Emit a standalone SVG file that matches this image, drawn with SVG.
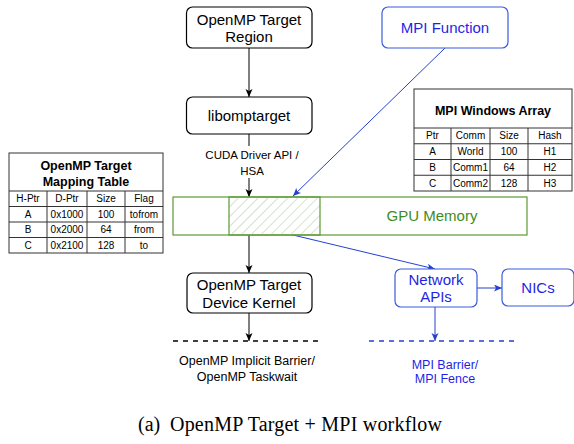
<svg xmlns="http://www.w3.org/2000/svg" width="574" height="444" viewBox="0 0 574 444">
<style>
.box{fill:#fff;stroke:#000;stroke-width:1.2}
.bbox{fill:#fff;stroke:#3b5bdb;stroke-width:1.2}
.t{font-family:"Liberation Sans",Arial,sans-serif;font-size:15px;fill:#000;text-anchor:middle}
.bt{font-family:"Liberation Sans",Arial,sans-serif;font-size:15px;fill:#1f1fe6;text-anchor:middle}
.s{font-family:"Liberation Sans",Arial,sans-serif;font-size:12.5px;fill:#000;text-anchor:middle}
.sb{font-family:"Liberation Sans",Arial,sans-serif;font-size:12.5px;fill:#1f1fe6;text-anchor:middle}
.th{font-family:"Liberation Sans",Arial,sans-serif;font-size:12.5px;font-weight:bold;fill:#000;text-anchor:middle}
.c{font-family:"Liberation Sans",Arial,sans-serif;font-size:10px;fill:#000;text-anchor:middle}
.tbl{fill:#fff;stroke:#333;stroke-width:1}
.tl{stroke:#333;stroke-width:1}
.k{stroke:#000;stroke-width:1;fill:none}
.b{stroke:#2540d0;stroke-width:1;fill:none}
</style>
<defs>
<marker id="ak" markerUnits="userSpaceOnUse" markerWidth="9" markerHeight="8" refX="8" refY="3.5" orient="auto">
<path d="M0,0 L8,3.5 L0,7 L2,3.5 z" fill="#000"/>
</marker>
<marker id="ab" markerUnits="userSpaceOnUse" markerWidth="9" markerHeight="8" refX="8" refY="3.5" orient="auto">
<path d="M0,0 L8,3.5 L0,7 L2,3.5 z" fill="#2540d0"/>
</marker>
<pattern id="hatch" patternUnits="userSpaceOnUse" width="7" height="7" patternTransform="rotate(45)">
<line x1="0" y1="0" x2="0" y2="7" stroke="#b9cdaa" stroke-width="1.2"/>
</pattern>
</defs>
<rect width="574" height="444" fill="#fff"/>

<g id="connectors">
<line class="k" x1="249" y1="48" x2="249" y2="97" marker-end="url(#ak)"/>
<line class="k" x1="249" y1="134" x2="249" y2="197" marker-end="url(#ak)"/>
<line class="k" x1="249" y1="235" x2="249" y2="273" marker-end="url(#ak)"/>
<line class="k" x1="249" y1="313" x2="249" y2="341" marker-end="url(#ak)"/>
<line class="b" x1="445" y1="48" x2="293" y2="196" marker-end="url(#ab)"/>
<line class="b" x1="293" y1="235" x2="435" y2="269" marker-end="url(#ab)"/>
<line class="b" x1="477" y1="288" x2="502" y2="288" marker-end="url(#ab)"/>
<line class="b" x1="435" y1="307" x2="435" y2="341" marker-end="url(#ab)"/>
<line x1="173" y1="341" x2="322" y2="341" stroke="#000" stroke-width="1.5" stroke-dasharray="5,5"/>
<line x1="369" y1="341" x2="517" y2="341" stroke="#2540d0" stroke-width="1.5" stroke-dasharray="5,5"/>
<rect x="200" y="146" width="104" height="32" fill="#fff"/>
<text class="c" style="font-size:11.5px" x="252" y="159">CUDA Driver API /</text>
<text class="c" style="font-size:11.5px" x="252" y="175">HSA</text>
</g>

<g id="region">
<rect class="box" x="186.5" y="7" width="125.5" height="41" rx="6"/>
<text class="t" x="249" y="24.5">OpenMP Target</text>
<text class="t" x="249" y="41.5">Region</text>
</g>

<g id="libomptarget">
<rect class="box" x="186.5" y="97" width="125.5" height="37" rx="6"/>
<text class="t" x="249" y="120.5">libomptarget</text>
</g>

<g id="mpi-function">
<rect class="bbox" x="382" y="7" width="126" height="41" rx="6"/>
<text class="bt" x="445" y="33">MPI Function</text>
</g>

<g id="gpu-memory">
<rect x="173" y="197" width="354" height="38" fill="#fff" stroke="#5a9a32" stroke-width="1.2"/>
<rect x="229" y="197" width="91" height="38" fill="url(#hatch)" stroke="#5a9a32" stroke-width="1.2"/>
<text x="432" y="220.5" font-family="Liberation Sans, Arial, sans-serif" font-size="15" fill="#3d8c1e" text-anchor="middle">GPU Memory</text>
</g>

<g id="kernel">
<rect class="box" x="187" y="273" width="125" height="40" rx="6"/>
<text class="t" x="249" y="289.5">OpenMP Target</text>
<text class="t" x="249" y="308">Device Kernel</text>
</g>

<g id="network-apis">
<rect class="bbox" x="395" y="269" width="82" height="38" rx="6"/>
<text class="bt" x="436" y="284.6">Network</text>
<text class="bt" x="436" y="302">APIs</text>
</g>

<g id="nics">
<rect class="bbox" x="502" y="269" width="72" height="37" rx="6"/>
<text class="bt" x="538" y="293">NICs</text>
</g>

<g id="omp-barrier-label">
<text class="s" x="247" y="364.5">OpenMP Implicit Barrier/</text>
<text class="s" x="247" y="380.5">OpenMP Taskwait</text>
</g>

<g id="mpi-barrier-label">
<text class="sb" x="445" y="368.5">MPI Barrier/</text>
<text class="sb" x="445" y="382.5">MPI Fence</text>
</g>

<g id="mapping-table">
<rect class="tbl" x="9" y="153" width="154" height="100"/>
<line class="tl" x1="9" y1="191" x2="163" y2="191"/>
<line class="tl" x1="9" y1="206.5" x2="163" y2="206.5"/>
<line class="tl" x1="9" y1="222" x2="163" y2="222"/>
<line class="tl" x1="9" y1="237.5" x2="163" y2="237.5"/>
<line class="tl" x1="47" y1="191" x2="47" y2="253"/>
<line class="tl" x1="87" y1="191" x2="87" y2="253"/>
<line class="tl" x1="125" y1="191" x2="125" y2="253"/>
<text class="th" x="86" y="169.5">OpenMP Target</text>
<text class="th" x="86" y="185.5">Mapping Table</text>
<text class="c" x="28" y="202.3">H-Ptr</text><text class="c" x="67" y="202.3">D-Ptr</text><text class="c" x="106" y="202.3">Size</text><text class="c" x="144" y="202.3">Flag</text>
<text class="c" x="28" y="217.8">A</text><text class="c" x="67" y="217.8">0x1000</text><text class="c" x="106" y="217.8">100</text><text class="c" x="144" y="217.8">tofrom</text>
<text class="c" x="28" y="233.3">B</text><text class="c" x="67" y="233.3">0x2000</text><text class="c" x="106" y="233.3">64</text><text class="c" x="144" y="233.3">from</text>
<text class="c" x="28" y="248.8">C</text><text class="c" x="67" y="248.8">0x2100</text><text class="c" x="106" y="248.8">128</text><text class="c" x="144" y="248.8">to</text>
</g>

<g id="windows-array">
<rect class="tbl" x="414" y="89" width="158" height="102"/>
<line class="tl" x1="414" y1="128" x2="572" y2="128"/>
<line class="tl" x1="414" y1="143.75" x2="572" y2="143.75"/>
<line class="tl" x1="414" y1="159.5" x2="572" y2="159.5"/>
<line class="tl" x1="414" y1="175.25" x2="572" y2="175.25"/>
<line class="tl" x1="451" y1="128" x2="451" y2="191"/>
<line class="tl" x1="490" y1="128" x2="490" y2="191"/>
<line class="tl" x1="528" y1="128" x2="528" y2="191"/>
<text class="th" x="493" y="115">MPI Windows Array</text>
<text class="c" x="432.5" y="139.4">Ptr</text><text class="c" x="470.5" y="139.4">Comm</text><text class="c" x="509" y="139.4">Size</text><text class="c" x="550" y="139.4">Hash</text>
<text class="c" x="432.5" y="155.1">A</text><text class="c" x="470.5" y="155.1">World</text><text class="c" x="509" y="155.1">100</text><text class="c" x="550" y="155.1">H1</text>
<text class="c" x="432.5" y="170.9">B</text><text class="c" x="470.5" y="170.9">Comm1</text><text class="c" x="509" y="170.9">64</text><text class="c" x="550" y="170.9">H2</text>
<text class="c" x="432.5" y="186.6">C</text><text class="c" x="470.5" y="186.6">Comm2</text><text class="c" x="509" y="186.6">128</text><text class="c" x="550" y="186.6">H3</text>
</g>

<g id="caption">
<text x="138" y="431" font-family="Liberation Serif, Times New Roman, serif" font-size="20" fill="#000">(a)</text>
<text x="170" y="431" font-family="Liberation Serif, Times New Roman, serif" font-size="20" fill="#000" textLength="272">OpenMP Target + MPI workflow</text>
</g>
</svg>
